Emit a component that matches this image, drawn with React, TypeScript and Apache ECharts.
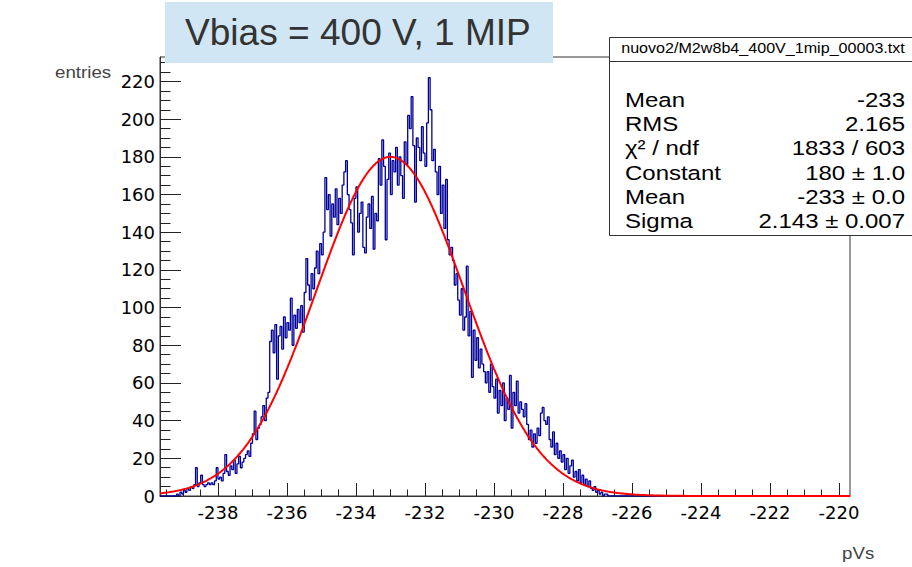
import React, { useEffect, useRef } from "react";
import * as echarts from "echarts";

// Histogram of the 1 MIP signal integral (pVs), bins of 0.05 starting at -239.2
const binStart = -239.2;
const binWidth = 0.05;
const countsA = [1, 0, 2, 1, 3, 2, 4, 3, 5, 4, 6, 15, 5, 7, 11, 6, 5, 6, 7, 6];
const countsB = [7, 6, 8, 15, 9, 10, 8, 12, 22, 13, 11, 16, 14, 19, 12, 17, 21, 15, 18, 20];
const countsC = [22, 24, 21, 28, 33, 45, 30, 36, 38, 42, 48, 40, 52, 55, 82, 88, 76, 91, 62, 85];
const countsD = [90, 78, 95, 84, 92, 88, 105, 80, 96, 89, 99, 92, 101, 87, 108, 126, 112, 104, 118, 110];
const countsE = [121, 130, 118, 134, 128, 140, 169, 152, 160, 138, 155, 148, 163, 144, 158, 150, 165, 172, 178, 160];
const countsF = [152, 145, 128, 158, 164, 140, 150, 156, 132, 129, 148, 155, 142, 159, 131, 150, 146, 179, 165, 189];
const countsG = [175, 136, 168, 182, 160, 178, 172, 185, 165, 180, 170, 158, 188, 176, 202, 195, 212, 186, 156, 190];
const countsH = [185, 178, 196, 182, 175, 198, 222, 205, 178, 184, 172, 160, 175, 150, 165, 142, 168, 136, 128, 132];
const countsI = [125, 112, 118, 104, 96, 110, 88, 95, 122, 85, 98, 63, 88, 72, 84, 68, 78, 70, 66, 60];
const countsJ = [66, 55, 70, 58, 52, 62, 44, 56, 48, 60, 40, 52, 46, 64, 36, 55, 48, 61, 44, 50];
const countsK = [46, 42, 49, 38, 30, 35, 26, 33, 28, 36, 32, 44, 47, 40, 38, 42, 30, 26, 34, 22];
const countsL = [28, 20, 24, 18, 22, 14, 20, 12, 16, 19, 10, 13, 8, 14, 7, 11, 6, 9, 5, 8];
const countsM = [4, 3, 5, 2, 3, 1, 2, 0, 1, 1];

// Gaussian fit parameters
const fitConstant = 180;
const fitMean = -233;
const fitSigma = 2.143;

// Axis ranges and ticks
const xMin = -239.68;
const xMax = -219.68;
const yMax = 233;
const xMajor = [-238, -236, -234, -232, -230, -228, -226, -224, -222, -220];
const yMajor = [0, 20, 40, 60, 80, 100, 120, 140, 160, 180, 200, 220];

// Statistics box rows
const statsTitle = "nuovo2/M2w8b4_400V_1mip_00003.txt";
const statsNames = ["Mean", "RMS", "χ² / ndf", "Constant", "Mean", "Sigma"];
const statsValues = ["-233", "2.165", "1833 / 603", "180 ± 1.0", "-233 ± 0.0", "2.143 ± 0.007"];

const FONT = "'Liberation Sans', Arial, Helvetica, sans-serif";
const TICK_FONT = "'DejaVu Sans', 'Liberation Sans', sans-serif";

export default function App() {
  const ref = useRef<HTMLDivElement>(null);

  useEffect(() => {
    if (!ref.current) return;
    const chart = echarts.init(ref.current, undefined, { renderer: "svg" });

    const counts = [
      ...countsA, ...countsB, ...countsC, ...countsD, ...countsE, ...countsF, ...countsG,
      ...countsH, ...countsI, ...countsJ, ...countsK, ...countsL, ...countsM,
    ];
    const endEdge = binStart + counts.length * binWidth;
    const hist: number[][] = [[xMin, 0]];
    counts.forEach((c, i) => hist.push([binStart + i * binWidth, c]));
    hist.push([endEdge, 0]);
    hist.push([xMax, 0]);

    const fit: number[][] = [];
    const nFit = 800;
    for (let i = 0; i <= nFit; i++) {
      const x = xMin + ((xMax - xMin) * i) / nFit;
      const z = (x - fitMean) / fitSigma;
      fit.push([x, fitConstant * Math.exp(-0.5 * z * z)]);
    }

    const xMinor: number[] = [];
    for (let v = -239.5; v <= -219.75; v += 0.5) xMinor.push(Math.round(v * 10) / 10);
    const yMinor: number[] = [];
    for (let v = 0; v <= 230; v += 5) yMinor.push(v);

    const axisColor = "#333";
    const labelStyle = { fontFamily: TICK_FONT, fontSize: 18, color: "#000" };

    const statsGraphics: any[] = [];
    statsNames.forEach((name, i) => {
      const y = 100 + i * 24.3;
      statsGraphics.push({
        type: "text", x: 625, y, scaleX: 1.17,
        style: { text: name, font: `20.5px ${FONT}`, fill: "#000", textVerticalAlign: "middle" },
      });
      statsGraphics.push({
        type: "text", x: 905, y, scaleX: 1.17,
        style: { text: statsValues[i], font: `20.5px ${FONT}`, fill: "#000", textAlign: "right", textVerticalAlign: "middle" },
      });
    });

    chart.setOption({
      animation: false,
      backgroundColor: "#fff",
      grid: {
        left: 160, top: 57, width: 690, height: 439,
        show: true, borderColor: axisColor, borderWidth: 1, backgroundColor: "transparent",
      },
      xAxis: [
        {
          type: "value", min: xMin, max: xMax, position: "bottom",
          axisLine: { show: true, onZero: false, lineStyle: { color: axisColor, width: 1 } },
          axisTick: { show: true, inside: true, length: 13, customValues: xMajor, lineStyle: { color: "#222" } },
          axisLabel: { show: true, customValues: xMajor, margin: 7, ...labelStyle, formatter: (v: number) => String(v) },
          splitLine: { show: false },
        },
        {
          type: "value", min: xMin, max: xMax, position: "bottom", offset: 0,
          axisLine: { show: false },
          axisTick: { show: true, inside: true, length: 6.5, customValues: xMinor, lineStyle: { color: "#222" } },
          axisLabel: { show: false },
          splitLine: { show: false },
        },
      ],
      yAxis: [
        {
          type: "value", min: 0, max: yMax, position: "left",
          axisLine: { show: true, onZero: false, lineStyle: { color: axisColor, width: 1 } },
          axisTick: { show: true, inside: true, length: 21, customValues: yMajor, lineStyle: { color: "#222" } },
          axisLabel: { show: true, customValues: yMajor, margin: 5, ...labelStyle },
          splitLine: { show: false },
        },
        {
          type: "value", min: 0, max: yMax, position: "left", offset: 0,
          axisLine: { show: false },
          axisTick: { show: true, inside: true, length: 10.5, customValues: yMinor, lineStyle: { color: "#222" } },
          axisLabel: { show: false },
          splitLine: { show: false },
        },
      ],
      series: [
        {
          type: "line", xAxisIndex: 0, yAxisIndex: 0, data: hist, step: "end",
          showSymbol: false, symbol: "none",
          lineStyle: { color: "#000099", width: 1.3 },
          z: 2,
        },
        {
          type: "line", xAxisIndex: 0, yAxisIndex: 0, data: fit,
          showSymbol: false, symbol: "none", smooth: false,
          lineStyle: { color: "#ff0000", width: 2 },
          z: 3,
        },
      ],
      graphic: [
        {
          type: "rect", z: 100, shape: { x: 165, y: 2, width: 388, height: 61 },
          style: { fill: "#d0e6f4" },
        },
        {
          type: "text", z: 101, x: 185, y: 33, scaleX: 1.03,
          style: { text: "Vbias = 400 V, 1 MIP", font: `36px ${FONT}`, fill: "#333", textVerticalAlign: "middle" },
        },
        {
          type: "rect", z: 100, shape: { x: 609.5, y: 37.5, width: 310, height: 198 },
          style: { fill: "#fff", stroke: "#333", lineWidth: 1 },
        },
        {
          type: "line", z: 101, shape: { x1: 609.5, y1: 61.5, x2: 912, y2: 61.5 },
          style: { stroke: "#333", lineWidth: 1 },
        },
        {
          type: "text", z: 101, x: 763, y: 48, scaleX: 1.15, originX: 0,
          style: { text: statsTitle, font: `14px ${FONT}`, fill: "#000", textAlign: "center", textVerticalAlign: "middle" },
        },
        ...statsGraphics.map((g) => ({ ...g, z: 101 })),
        {
          type: "text", z: 101, x: 55, y: 72, scaleX: 1.17,
          style: { text: "entries", font: `16px ${FONT}`, fill: "#444", textVerticalAlign: "middle" },
        },
        {
          type: "text", z: 101, x: 842, y: 553, scaleX: 1.17,
          style: { text: "pVs", font: `16px ${FONT}`, fill: "#444", textVerticalAlign: "middle" },
        },
      ],
    });

    return () => chart.dispose();
  }, []);

  return (
    <div
      ref={ref}
      style={{ position: "fixed", left: 0, top: 0, width: 912, height: 567, background: "#fff" }}
    />
  );
}
